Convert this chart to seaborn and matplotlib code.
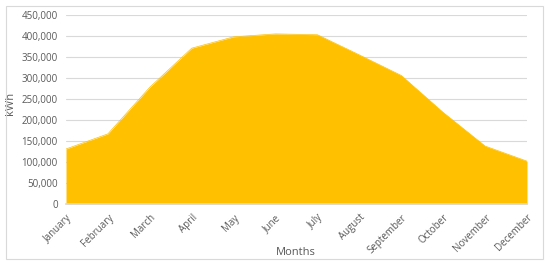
import matplotlib
matplotlib.use("Agg")
import matplotlib.pyplot as plt
import seaborn as sns
import pandas as pd
import numpy as np
from matplotlib.patches import Rectangle
from matplotlib.ticker import FuncFormatter, MultipleLocator

months = ["January", "February", "March", "April", "May", "June", "July",
          "August", "September", "October", "November", "December"]
energy_kwh = [131000, 167000, 278000, 371000, 398000, 405000, 403000,
              355000, 306000, 218000, 138000, 102000]

df = pd.DataFrame({"Months": months, "kWh": energy_kwh})
df["pos"] = np.arange(len(months))

sns.set_theme(style="white")
plt.rcParams["font.family"] = ["Open Sans", "DejaVu Sans"]

fig = plt.figure(figsize=(5.5, 2.65), dpi=100)
ax = fig.add_axes([66/550, 1 - 204/265, (527-66)/550, (204-15)/265])

fill_color = "#FFC000"
sns.lineplot(data=df, x="pos", y="kWh", ax=ax, color=fill_color, linewidth=0.5)
ax.fill_between(df["pos"], 0, df["kWh"], color=fill_color, linewidth=0, zorder=2)

ax.set_xlim(0, len(months) - 1)
ax.set_ylim(0, 450000)
ax.yaxis.set_major_locator(MultipleLocator(50000))
ax.yaxis.set_major_formatter(FuncFormatter(lambda v, p: f"{int(v):,}"))
ax.grid(axis="y", color="#D9D9D9", linewidth=0.8, zorder=0)
ax.set_axisbelow(True)

ax.set_xticks(df["pos"])
ax.set_xticklabels(months, rotation=45, ha="right", rotation_mode="anchor")
ax.tick_params(axis="both", length=0, labelsize=7, colors="#595959")
ax.tick_params(axis="x", pad=6)
ax.tick_params(axis="y", pad=6)

for s in ["top", "right", "left"]:
    ax.spines[s].set_visible(False)
ax.spines["bottom"].set_color("#D9D9D9")

ax.set_xlabel("Months", fontsize=8, color="#595959")
ax.set_ylabel("kWh", fontsize=8, color="#595959")
ax.xaxis.set_label_coords(0.499, -0.23)
ax.yaxis.set_label_coords(-0.108, 0.53)

fig.patches.append(Rectangle((6/550, 1 - 259/265), (543-6)/550, (259-6)/265,
                             transform=fig.transFigure, fill=False,
                             edgecolor="#D9D9D9", linewidth=0.8))

fig.savefig("out.png", dpi=100)
